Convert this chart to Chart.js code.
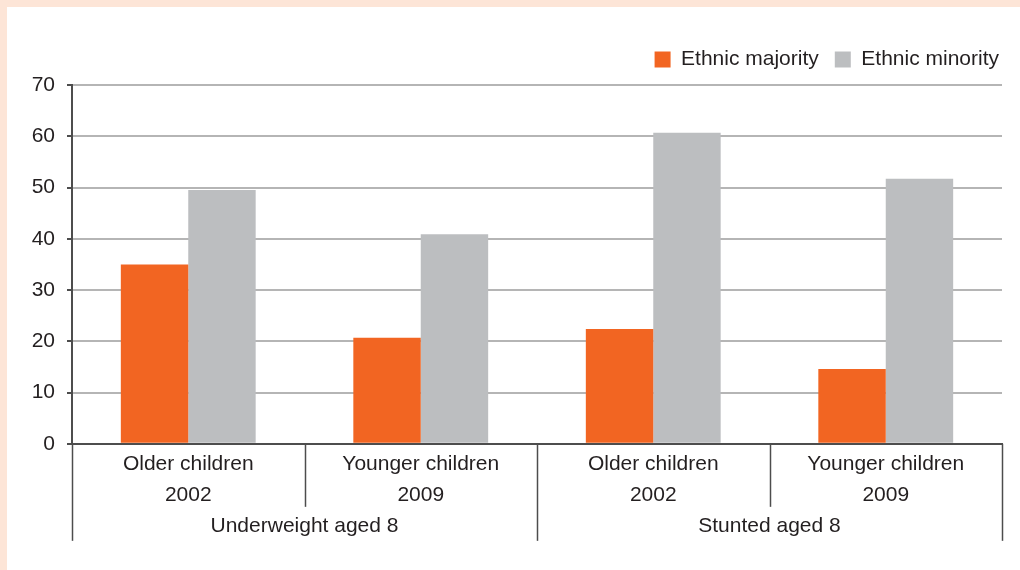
<!DOCTYPE html>
<html>
<head>
<meta charset="utf-8">
<script src="https://cdn.jsdelivr.net/npm/chart.js@4/dist/chart.umd.min.js"></script>
<style>
  html,body{margin:0;padding:0;background:#fde5d7;}
  #wrap{position:absolute;left:7px;top:7px;width:1013px;height:563px;background:#fff;}
</style>
</head>
<body>
<div id="wrap"><canvas id="chart" width="1013" height="563"></canvas></div>
<script>
// --- data
const categories = [['Older children','2002'],['Younger children','2009'],['Older children','2002'],['Younger children','2009']];
const groups = ['Underweight aged 8','Stunted aged 8'];
const majority = [35, 20.7, 22.4, 14.6];
const minority = [49.5, 40.9, 60.7, 51.7];
const yTicks = [0,10,20,30,40,50,60,70];

const textColor = '#231f20';
const axisColor = '#4d4d4d';
const fontFamily = '"Liberation Sans", Arial, sans-serif';

// --- extra room under the legend, and nudge it right
const legendGap = {
  id: 'legendGap',
  beforeInit(chart){
    const fit = chart.legend.fit;
    chart.legend.fit = function(){ fit.bind(chart.legend)(); this.height += 5; };
  },
  afterLayout(chart){
    chart.legend.left += 13; chart.legend.right += 13;
  }
};

// --- draw dividers and group labels under the x axis
const groupAxis = {
  id: 'groupAxis',
  afterDraw(chart){
    const {ctx, chartArea, scales:{x}} = chart;
    const n = categories.length, per = n/groups.length;
    const bottom = chartArea.bottom;
    ctx.save();
    ctx.strokeStyle = axisColor; ctx.lineWidth = 1.5;
    for(let i=0;i<=n;i++){
      let px;
      if(i===0) px = chartArea.left;
      else if(i===n) px = chartArea.right;
      else px = (x.getPixelForValue(i-1)+x.getPixelForValue(i))/2;
      const len = (i%per===0) ? 97 : 63;
      ctx.beginPath(); ctx.moveTo(Math.round(px)+0.5,bottom); ctx.lineTo(Math.round(px)+0.5,bottom+len); ctx.stroke();
    }
    ctx.fillStyle = textColor;
    ctx.font = '21px ' + fontFamily;
    ctx.textAlign = 'center'; ctx.textBaseline = 'middle';
    groups.forEach((g,gi)=>{
      const a = x.getPixelForValue(gi*per), b = x.getPixelForValue(gi*per+per-1);
      ctx.fillText(g,(a+b)/2,bottom+82);
    });
    ctx.restore();
  }
};

new Chart(document.getElementById('chart'),{
  type:'bar',
  data:{
    labels:categories,
    datasets:[
      {label:'Ethnic majority',data:majority,backgroundColor:'#f26522',categoryPercentage:0.58,barPercentage:1},
      {label:'Ethnic minority',data:minority,backgroundColor:'#bcbec0',categoryPercentage:0.58,barPercentage:1}
    ]
  },
  options:{
    responsive:false,animation:false,
    layout:{padding:{top:26,right:18,bottom:62,left:0}},
    plugins:{
      legend:{
        position:'top',align:'end',
        labels:{boxWidth:16,boxHeight:16,padding:16,color:textColor,font:{size:21,family:fontFamily}}
      },
      tooltip:{enabled:false}
    },
    scales:{
      x:{
        grid:{display:false},
        border:{color:axisColor,width:2},
        ticks:{color:textColor,padding:-3,maxRotation:0,autoSkip:false,font:{size:21,lineHeight:1.48,family:fontFamily}}
      },
      y:{
        min:0,max:70,
        afterFit(s){ s.width = 65; },
        afterBuildTicks(s){ s.ticks = yTicks.map(v=>({value:v})); },
        grid:{color:'#b5b5b5',lineWidth:2,tickLength:5,tickColor:axisColor},
        border:{color:axisColor,width:2},
        ticks:{color:textColor,padding:12,font:{size:21,family:fontFamily}}
      }
    }
  },
  plugins:[groupAxis,legendGap]
});
</script>
</body>
</html>
